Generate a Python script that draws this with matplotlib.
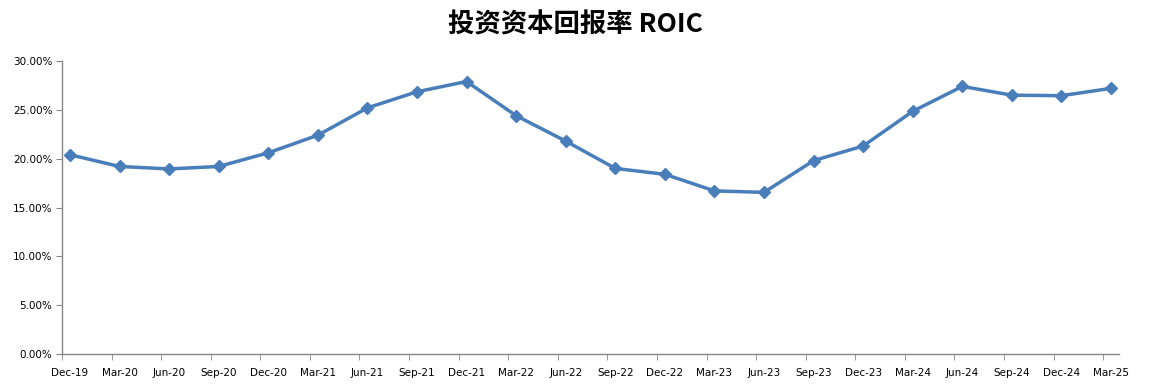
import matplotlib
matplotlib.use("Agg")
import matplotlib.pyplot as plt
from matplotlib.ticker import FuncFormatter, FixedLocator
import numpy as np

categories = ["Dec-19", "Mar-20", "Jun-20", "Sep-20", "Dec-20", "Mar-21", "Jun-21",
              "Sep-21", "Dec-21", "Mar-22", "Jun-22", "Sep-22", "Dec-22", "Mar-23",
              "Jun-23", "Sep-23", "Dec-23", "Mar-24", "Jun-24", "Sep-24", "Dec-24", "Mar-25"]
roic = [20.4, 19.2, 18.95, 19.2, 20.6, 22.4, 25.2, 26.85, 27.9, 24.4, 21.8, 19.0,
        18.4, 16.7, 16.55, 19.8, 21.3, 24.85, 27.4, 26.5, 26.45, 27.2]
yticks = [0, 5, 10, 15, 20, 25, 30]

W, H = 1151, 391
fig = plt.figure(figsize=(W / 100, H / 100), dpi=100)
left, right = 62 / W, 1119 / W
bottom, top = 1 - 354 / H, 1 - 61 / H
ax = fig.add_axes([left, bottom, right - left, top - bottom])

x = np.arange(len(categories))
color = "#4A7EBB"
ax.plot(x, roic, color=color, lw=2.5, marker="D", markersize=6.5,
        markeredgecolor=color, markerfacecolor=color, zorder=3)

off = 0.16
ax.set_xlim(-off, len(categories) - 1 + off)
ax.set_ylim(0, 30)

ax.set_xticks(x)
ax.set_xticklabels(categories, fontsize=7.5, family="DejaVu Sans", color="#000000")
ax.tick_params(axis="x", which="major", length=0, pad=10)
ax.xaxis.set_minor_locator(FixedLocator(x - off))
ax.tick_params(axis="x", which="minor", length=4, color="#868686", direction="out")

ax.set_yticks(yticks)
ax.yaxis.set_major_formatter(FuncFormatter(lambda v, p: f"{v:.2f}%"))
ax.tick_params(axis="y", length=4, color="#868686", labelsize=7.5, pad=3)

for s in ["top", "right"]:
    ax.spines[s].set_visible(False)
for s in ["left", "bottom"]:
    ax.spines[s].set_color("#868686")
    ax.spines[s].set_linewidth(1.0)

fig.text(575 / W, 1 - 25 / H, "投资资本回报率 ROIC", ha="center", va="center",
         fontsize=19, fontweight="bold", family=["Noto Sans CJK SC", "DejaVu Sans"])

fig.savefig("out.png", dpi=100, facecolor="white")
